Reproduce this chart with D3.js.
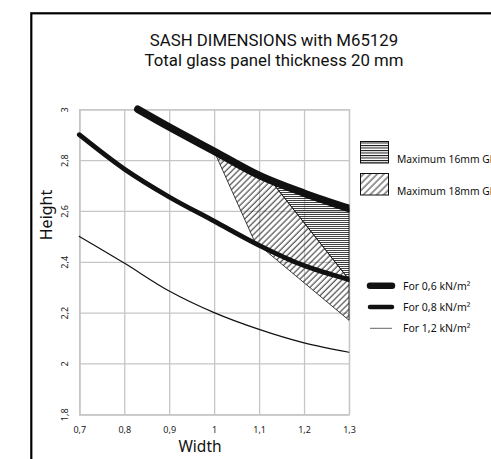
<!DOCTYPE html>
<html>
<head>
<meta charset="utf-8">
<script src="https://cdn.jsdelivr.net/npm/d3@7"></script>
<style>
  html,body{margin:0;padding:0;background:#fff;}
  svg{display:block;font-family:"Noto Sans",sans-serif;}
</style>
</head>
<body>
<svg id="chart" width="491" height="459"></svg>
<script>
// data
const x_ticks=[0.7,0.8,0.9,1.0,1.1,1.2,1.3];
const y_ticks=[1.8,2.0,2.2,2.4,2.6,2.8,3.0];

const load_06_w=[0.83,0.9,1.0,1.1,1.2,1.3];
const load_06_h=[3.0,2.93,2.835,2.74,2.67,2.61];
const load_08_w=[0.7,0.8,0.9,1.0,1.1,1.2,1.3];
const load_08_h=[2.9,2.765,2.655,2.56,2.465,2.385,2.33];
const load_12_w=[0.7,0.8,0.9,1.0,1.1,1.2,1.3];
const load_12_h=[2.5,2.395,2.285,2.2,2.134,2.081,2.044];

// hatched areas [width,height]
const glass16_area=[[1.128,2.715],[1.2,2.665],[1.3,2.61],[1.3,2.33]];
const glass18_area=[[1.0,2.835],[1.1,2.74],[1.128,2.715],[1.3,2.33],[1.3,2.17],[1.09,2.48]];

const area_labels=["Maximum 16mm Gl","Maximum 18mm Gl"];
const load_labels=["For 0,6 kN/m²","For 0,8 kN/m²","For 1,2 kN/m²"];
const title_lines=["SASH DIMENSIONS with M65129","Total glass panel thickness 20 mm"];

const svg=d3.select("#chart");
const fmt=d=>String(+d.toFixed(1)).replace(".",",");

const x=d3.scaleLinear().domain([0.7,1.3]).range([79.3,349]);
const y=d3.scaleLinear().domain([1.8,3.0]).range([414.3,109.3]);

// patterns
const defs=svg.append("defs");
const ph=defs.append("pattern")
    .attr("id","hatch_h")
    .attr("patternUnits","userSpaceOnUse")
    .attr("width",4).attr("height",2);
ph.append("line")
    .attr("x1",0).attr("y1",0.5).attr("x2",4).attr("y2",0.5)
    .attr("stroke","#111").attr("stroke-width",0.8);
const ph_leg=defs.append("pattern")
    .attr("id","hatch_h_leg")
    .attr("patternUnits","userSpaceOnUse")
    .attr("width",4).attr("height",2.5);
ph_leg.append("line")
    .attr("x1",0).attr("y1",0.5).attr("x2",4).attr("y2",0.5)
    .attr("stroke","#111").attr("stroke-width",1);
const pd=defs.append("pattern")
    .attr("id","hatch_d")
    .attr("patternUnits","userSpaceOnUse")
    .attr("width",4.3).attr("height",10)
    .attr("patternTransform","rotate(45)");
pd.append("line")
    .attr("x1",1).attr("y1",0).attr("x2",1).attr("y2",10)
    .attr("stroke","#111").attr("stroke-width",0.9);
const pd_leg=defs.append("pattern")
    .attr("id","hatch_d_leg")
    .attr("patternUnits","userSpaceOnUse")
    .attr("width",4.8).attr("height",10)
    .attr("patternTransform","rotate(45)");
pd_leg.append("line")
    .attr("x1",1).attr("y1",0).attr("x2",1).attr("y2",10)
    .attr("stroke","#111").attr("stroke-width",0.9);

// outer frame (runs off the picture on the right and bottom)
svg.append("rect")
    .attr("x",31.3).attr("y",13.3)
    .attr("width",520).attr("height",520)
    .attr("fill","none")
    .attr("stroke","#000")
    .attr("stroke-width",2.2);

// title
svg.selectAll(".title")
    .data(title_lines)
    .join("text")
    .attr("class","title")
    .attr("x",274)
    .attr("y",(d,i)=>46+i*20)
    .attr("text-anchor","middle")
    .attr("font-family","Roboto,sans-serif")
    .attr("font-size",16.8)
    .attr("fill","#111")
    .text(d=>d);

// grid + axes
const grid_color="#c6c6c6";
const x_axis=svg.append("g")
    .attr("transform","translate(0,"+y(1.8)+")")
    .call(d3.axisBottom(x).tickValues(x_ticks).tickFormat(fmt)
        .tickSize(-(y(1.8)-y(3.0))).tickPadding(12));
const y_axis=svg.append("g")
    .attr("transform","translate("+x(0.7)+",0)")
    .call(d3.axisLeft(y).tickValues(y_ticks).tickFormat(fmt)
        .tickSize(-(x(1.3)-x(0.7))));
for(const ax of [x_axis,y_axis]){
    ax.select(".domain").attr("stroke",grid_color).attr("stroke-width",1.3);
    ax.selectAll(".tick line").attr("stroke",grid_color).attr("stroke-width",1.3);
    ax.selectAll(".tick text")
        .attr("font-family","'Noto Sans',sans-serif")
        .attr("font-size",9)
        .attr("fill","#222");
}
y_axis.selectAll(".tick text")
    .attr("x",0).attr("dy",0)
    .attr("text-anchor","middle")
    .attr("transform","translate(-11,0) rotate(-90)");

// axis titles
svg.append("text")
    .attr("x",200).attr("y",452)
    .attr("text-anchor","middle")
    .attr("font-size",15.5)
    .attr("fill","#111")
    .text("Width");
svg.append("text")
    .attr("transform","translate(52,215) rotate(-90)")
    .attr("text-anchor","middle")
    .attr("font-size",16)
    .attr("fill","#111")
    .text("Height");

// hatched areas
const area_line=d3.line().x(d=>x(d[0])).y(d=>y(d[1]));
svg.append("path")
    .attr("d",area_line(glass18_area)+"Z")
    .attr("fill","url(#hatch_d)")
    .attr("stroke","#111")
    .attr("stroke-width",0.8);
svg.append("path")
    .attr("d",area_line(glass16_area)+"Z")
    .attr("fill","url(#hatch_h)")
    .attr("stroke","#111")
    .attr("stroke-width",0.8);

// load curves
defs.append("clipPath").attr("id","plot_clip")
    .append("rect")
    .attr("x",x(0.7)-10).attr("y",y(3.0)-10)
    .attr("width",x(1.3)-x(0.7)+10.5).attr("height",y(1.8)-y(3.0)+10);
const series=[
    {w:load_06_w,h:load_06_h,width:7.5,color:"#111"},
    {w:load_08_w,h:load_08_h,width:4.8,color:"#111"},
    {w:load_12_w,h:load_12_h,width:1.2,color:"#111"}
];
const curve=d3.line().x(d=>x(d[0])).y(d=>y(d[1])).curve(d3.curveMonotoneX);
const curves=svg.append("g").attr("clip-path","url(#plot_clip)");
for(const s of series){
    curves.append("path")
        .attr("d",curve(d3.zip(s.w,s.h)))
        .attr("fill","none")
        .attr("stroke",s.color)
        .attr("stroke-width",s.width)
        .attr("stroke-linecap","round");
}

// legend: glass areas
const area_fills=["url(#hatch_h_leg)","url(#hatch_d_leg)"];
area_labels.forEach((label,i)=>{
    const top=141.5+i*32;
    svg.append("rect")
        .attr("x",360.5).attr("y",top)
        .attr("width",28).attr("height",21.5)
        .attr("fill",area_fills[i])
        .attr("stroke","#111")
        .attr("stroke-width",1);
    svg.append("text")
        .attr("x",397).attr("y",top+21)
        .attr("font-size",10.3)
        .attr("fill","#111")
        .text(label);
});

// legend: load lines
const legend_widths=[6.5,4.5,1];
const legend_colors=["#111","#111","#666"];
load_labels.forEach((label,i)=>{
    const ly=285.7+i*21.3;
    svg.append("line")
        .attr("x1",370).attr("x2",392)
        .attr("y1",ly).attr("y2",ly)
        .attr("stroke",legend_colors[i])
        .attr("stroke-width",legend_widths[i])
        .attr("stroke-linecap",i<2?"round":"butt");
    svg.append("text")
        .attr("x",403).attr("y",ly+4)
        .attr("font-size",10.5)
        .attr("fill","#111")
        .text(label);
});
</script>
</body>
</html>
